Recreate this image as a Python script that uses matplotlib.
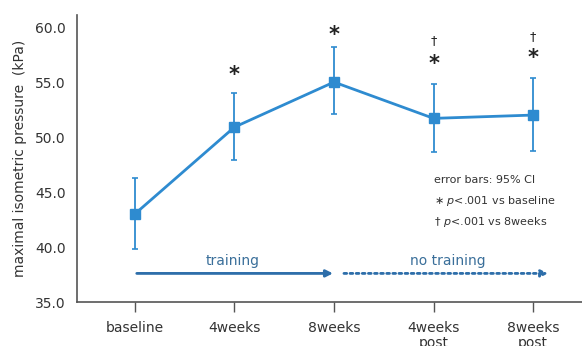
import matplotlib.pyplot as plt

timepoints = ['baseline', '4weeks', '8weeks', '4weeks\npost', '8weeks\npost']
pressure = [43.0, 50.9, 55.0, 51.7, 52.0]
ci_low = [39.8, 47.9, 52.1, 48.6, 48.7]
ci_high = [46.3, 54.0, 58.2, 54.8, 55.4]
star_y = [None, 55.6, 59.3, 56.6, 57.2]
dagger_y = [None, None, None, 58.8, 59.1]

line_col = '#2e8bd0'
arrow_col = '#2d6eaa'
text_col = '#333333'

plt.rcParams['font.family'] = 'DejaVu Sans'

fig = plt.figure(figsize=(5.82, 3.46), dpi=100)
ax = fig.add_axes([77/582, 44/346, 505/582, 287/346])

x = list(range(len(timepoints)))
yerr = [[p - lo for p, lo in zip(pressure, ci_low)],
        [hi - p for p, hi in zip(pressure, ci_high)]]
ax.errorbar(x, pressure, yerr=yerr, color=line_col, lw=2, marker='s', ms=7,
            elinewidth=1.3, capsize=2.5, capthick=1.2)

for i in x:
    if star_y[i] is not None:
        ax.text(i, star_y[i], '*', ha='center', va='center', fontsize=15,
                fontweight='bold', color='#222222')
    if dagger_y[i] is not None:
        ax.text(i, dagger_y[i], '†', ha='center', va='center', fontsize=9,
                color='#222222')

# training / no training phases
ax.annotate('', xy=(1.99, 37.6), xytext=(0.02, 37.6),
            arrowprops=dict(arrowstyle='-|>', color=arrow_col, lw=2,
                            mutation_scale=10, shrinkA=0, shrinkB=0))
ax.annotate('', xy=(4.15, 37.6), xytext=(2.1, 37.6),
            arrowprops=dict(arrowstyle='-|>', color=arrow_col, lw=2,
                            linestyle=(0, (1, 1.2)), mutation_scale=10,
                            shrinkA=0, shrinkB=0))
ax.text(0.98, 38.7, 'training', ha='center', va='center', fontsize=10,
        color='#3a6f9a')
ax.text(3.14, 38.7, 'no training', ha='center', va='center', fontsize=10,
        color='#3a6f9a')

# notes
ax.text(3.0, 46.1, 'error bars: 95% CI', fontsize=8, color=text_col, va='center')
ax.text(3.0, 44.2, r'$\ast$ $p$<.001 vs baseline', fontsize=8, color=text_col, va='center')
ax.text(3.0, 42.3, r'† $p$<.001 vs 8weeks', fontsize=8, color=text_col, va='center')

ax.set_xlim(-0.58, 4.49)
ax.set_ylim(35, 61.1)
ax.set_yticks([35, 40, 45, 50, 55, 60])
ax.set_yticklabels(['35.0', '40.0', '45.0', '50.0', '55.0', '60.0'])
ax.set_xticks(x)
ax.set_xticklabels(timepoints, linespacing=1.05)
ax.tick_params(axis='y', length=0, pad=8, labelsize=10, labelcolor=text_col)
ax.tick_params(axis='x', length=7, width=1, color='#555555', pad=7,
               labelsize=10, labelcolor=text_col)
ax.set_ylabel('maximal isometric pressure  (kPa)', fontsize=10, color=text_col,
              labelpad=6)
for side in ['top', 'right']:
    ax.spines[side].set_visible(False)
for side in ['left', 'bottom']:
    ax.spines[side].set_color('#555555')
    ax.spines[side].set_linewidth(1.2)

fig.savefig('out.png', dpi=100)
